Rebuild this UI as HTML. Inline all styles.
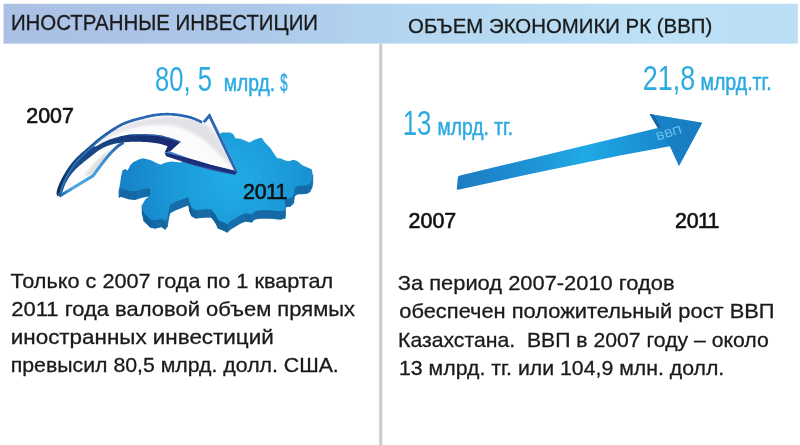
<!DOCTYPE html>
<html lang="ru"><head><meta charset="utf-8"><title>Иностранные инвестиции и объем экономики РК</title>
<style>
html,body{margin:0;padding:0;background:#fff;}
body{width:800px;height:445px;overflow:hidden;position:relative;font-family:"Liberation Sans",sans-serif;}
svg{position:absolute;left:0;top:0;display:block;filter:blur(0.45px);}
svg text{font-family:"Liberation Sans",sans-serif;}
svg text.k{stroke:#1a1a1a;stroke-width:0.3px;}
svg text.yr{font-kerning:none;stroke:#111;stroke-width:0.6px;}
</style></head><body>
<svg width="800" height="445" viewBox="0 0 800 445">
<defs>
 <filter id="b1" x="-20%" y="-20%" width="140%" height="140%"><feGaussianBlur stdDeviation="1.2"/></filter>
 <filter id="b2" x="-20%" y="-20%" width="140%" height="140%"><feGaussianBlur stdDeviation="1.6"/></filter>
 <clipPath id="cface"><path d="M76.2 163.7 L76.6 163.1 L77.2 162.4 L77.7 161.8 L78.3 161.1 L79.0 160.3 L79.7 159.6 L80.5 158.7 L81.4 157.8 L82.4 156.8 L83.4 155.8 L84.5 154.7 L85.7 153.7 L86.8 152.6 L87.9 151.6 L89.1 150.6 L90.2 149.6 L91.3 148.6 L92.3 147.7 L93.2 146.9 L94.1 146.1 L95.0 145.3 L95.8 144.6 L96.6 143.8 L97.4 143.1 L98.2 142.4 L99.0 141.8 L99.8 141.1 L100.5 140.4 L101.3 139.8 L102.1 139.1 L102.9 138.5 L103.8 137.9 L104.6 137.3 L105.4 136.7 L106.2 136.1 L107.0 135.5 L107.8 134.9 L108.6 134.3 L109.5 133.8 L110.3 133.2 L111.1 132.6 L112.0 132.1 L112.8 131.5 L113.6 131.0 L114.5 130.4 L115.3 129.9 L116.1 129.4 L116.9 128.8 L117.8 128.3 L118.6 127.8 L119.4 127.3 L120.2 126.9 L121.0 126.4 L121.8 126.0 L122.6 125.6 L123.4 125.3 L124.2 124.9 L125.0 124.6 L125.8 124.2 L126.7 123.9 L127.5 123.6 L128.3 123.3 L129.1 123.0 L129.9 122.7 L130.7 122.4 L131.5 122.2 L132.3 121.9 L133.1 121.7 L133.9 121.4 L134.7 121.2 L135.5 121.0 L136.2 120.8 L137.0 120.6 L137.8 120.4 L138.6 120.2 L139.4 120.0 L140.3 119.8 L141.1 119.6 L141.9 119.4 L142.7 119.2 L143.5 119.0 L144.3 118.8 L145.1 118.6 L145.9 118.3 L146.7 118.1 L147.5 117.9 L148.3 117.8 L149.0 117.6 L149.8 117.4 L150.6 117.2 L151.4 117.1 L152.3 116.9 L153.1 116.8 L153.9 116.6 L154.7 116.5 L155.5 116.4 L156.4 116.3 L157.2 116.1 L158.0 116.0 L158.8 115.9 L159.6 115.9 L160.4 115.8 L161.2 115.7 L162.0 115.7 L162.9 115.6 L163.7 115.6 L164.5 115.6 L165.3 115.5 L166.1 115.5 L166.9 115.5 L167.7 115.5 L168.6 115.5 L169.4 115.6 L170.2 115.6 L171.0 115.6 L171.8 115.7 L172.6 115.7 L173.4 115.8 L174.3 115.9 L175.1 115.9 L175.9 116.0 L176.7 116.1 L177.5 116.2 L178.3 116.3 L179.2 116.4 L180.0 116.6 L180.8 116.7 L181.7 116.9 L182.5 117.0 L183.4 117.2 L184.3 117.4 L185.1 117.5 L186.0 117.7 L186.8 117.9 L187.6 118.1 L188.4 118.3 L189.2 118.5 L189.9 118.7 L190.5 118.9 L191.2 119.1 L191.8 119.3 L192.3 119.5 L192.9 119.7 L193.4 119.9 L194.0 120.1 L194.5 120.3 L195.0 120.5 L195.5 120.8 L196.0 121.0 L196.5 121.2 L197.0 121.4 L197.5 121.6 L198.0 121.8 L198.4 122.1 L198.9 122.3 L199.4 122.5 L199.8 122.7 L200.2 123.0 L200.6 123.1 L200.9 123.3 L201.2 123.5 L201.5 123.6 L209.8 113.1 L237.9 171.4 L232.8 170.2 L210.6 164.8 L190.3 158.8 L170.1 151.4 L181.0 141.6 L181.0 141.6 L180.5 141.4 L179.8 141.2 L179.1 140.9 L178.2 140.6 L177.3 140.3 L176.3 139.9 L175.3 139.6 L174.2 139.2 L173.2 138.8 L172.2 138.5 L171.2 138.2 L170.3 137.9 L169.4 137.6 L168.6 137.4 L167.7 137.1 L166.9 136.9 L166.0 136.7 L165.2 136.4 L164.4 136.2 L163.5 136.0 L162.7 135.8 L161.9 135.6 L161.0 135.5 L160.2 135.3 L159.4 135.2 L158.5 135.0 L157.7 134.9 L156.8 134.8 L156.0 134.7 L155.1 134.7 L154.3 134.6 L153.4 134.5 L152.6 134.5 L151.7 134.4 L150.9 134.4 L150.1 134.3 L149.3 134.2 L148.5 134.2 L147.7 134.2 L147.0 134.1 L146.2 134.1 L145.5 134.1 L144.7 134.0 L143.9 134.0 L143.2 134.0 L142.4 134.0 L141.6 134.0 L140.8 134.0 L140.0 134.0 L139.2 134.0 L138.3 134.0 L137.5 134.0 L136.6 134.0 L135.8 134.1 L134.9 134.1 L134.1 134.1 L133.2 134.2 L132.4 134.2 L131.5 134.3 L130.7 134.4 L129.9 134.5 L129.0 134.6 L128.2 134.7 L127.3 134.9 L126.5 135.0 L125.7 135.2 L124.8 135.4 L124.0 135.5 L123.1 135.7 L122.3 135.9 L121.4 136.1 L120.6 136.3 L119.7 136.5 L118.9 136.7 L118.0 137.0 L117.1 137.2 L116.2 137.5 L115.3 137.7 L114.4 138.0 L113.6 138.3 L112.7 138.5 L111.9 138.8 L111.1 139.0 L110.4 139.3 L109.7 139.5 L109.1 139.8 L108.4 140.0 L107.8 140.3 L107.3 140.5 L106.7 140.7 L106.2 141.0 L105.6 141.2 L105.1 141.5 L104.6 141.7 L104.0 142.0 L103.4 142.3 L102.8 142.6 L102.2 142.9 L101.5 143.3 L100.9 143.6 L100.2 144.0 L99.6 144.4 L99.0 144.7 L98.3 145.1 L97.7 145.4 L97.1 145.7 L96.6 146.0 L96.0 146.2 L95.5 146.4 L95.1 146.4 L94.7 146.4 L94.3 146.4 L93.9 146.3 L93.6 146.3 L93.2 146.2 L92.8 146.2 L92.3 146.3 L91.8 146.5 L91.2 146.8 L90.5 147.2 L89.7 147.8 L88.8 148.5 L87.7 149.3 L86.6 150.2 L85.5 151.2 L84.3 152.3 L83.2 153.3 L82.0 154.4 L80.9 155.4 L79.8 156.4 L78.9 157.4 L78.0 158.2 L77.2 159.0 L76.5 159.7 L75.8 160.4 L75.2 161.1 L74.6 161.7 L74.1 162.3 L73.6 162.9 L73.1 163.6 L72.6 164.2 L72.0 164.8 L71.5 165.5 L71.0 166.2 L70.5 166.9 L69.9 167.6 L69.4 168.4 L68.9 169.1 L68.4 169.8 L67.9 170.6 L67.4 171.3 L66.9 172.1 L66.4 172.9 L65.9 173.6 L65.5 174.4 L65.0 175.2 L64.5 176.0 L64.1 176.8 L63.6 177.6 L63.1 178.4 L62.7 179.2 L62.2 180.0 L61.8 180.8 L61.4 181.7 L61.0 182.5 L60.6 183.3 L60.3 184.2 L60.0 185.0 L59.7 185.9 L59.5 186.8 L59.3 187.8 L59.1 188.8 L58.9 189.9 L58.8 190.9 L58.7 191.8 L58.5 192.8 L58.4 193.6 L58.4 194.3 L58.3 195.0 L58.2 195.5Z"/></clipPath><clipPath id="csil"><path d="M57.6 196.5 L57.5 196.3 L57.5 196.1 L57.3 195.9 L57.2 195.6 L57.1 195.3 L56.9 195.0 L56.8 194.7 L56.7 194.3 L56.6 193.9 L56.6 193.5 L56.6 193.0 L56.6 192.5 L56.7 192.0 L56.8 191.4 L56.9 190.8 L57.1 190.1 L57.3 189.5 L57.5 188.8 L57.7 188.1 L57.9 187.3 L58.2 186.6 L58.5 185.8 L58.8 185.1 L59.1 184.3 L59.4 183.5 L59.8 182.7 L60.2 181.9 L60.6 181.0 L61.0 180.2 L61.4 179.3 L61.9 178.4 L62.3 177.6 L62.8 176.7 L63.3 175.8 L63.7 175.0 L64.2 174.2 L64.7 173.4 L65.1 172.6 L65.6 171.8 L66.1 171.1 L66.6 170.3 L67.1 169.5 L67.6 168.8 L68.1 168.0 L68.6 167.3 L69.1 166.5 L69.7 165.8 L70.2 165.1 L70.7 164.4 L71.2 163.7 L71.7 163.1 L72.2 162.5 L72.7 161.8 L73.3 161.2 L73.8 160.6 L74.4 159.9 L75.0 159.2 L75.7 158.5 L76.4 157.8 L77.2 157.0 L78.1 156.1 L79.1 155.2 L80.1 154.3 L81.2 153.3 L82.3 152.3 L83.5 151.2 L84.7 150.2 L85.9 149.2 L87.0 148.2 L88.1 147.2 L89.2 146.3 L90.2 145.4 L91.1 144.6 L92.1 143.8 L92.9 143.0 L93.8 142.3 L94.6 141.5 L95.4 140.8 L96.2 140.1 L97.0 139.4 L97.8 138.8 L98.7 138.1 L99.5 137.5 L100.3 136.8 L101.1 136.2 L102.0 135.5 L102.8 134.9 L103.7 134.3 L104.5 133.7 L105.3 133.1 L106.2 132.5 L107.0 131.9 L107.9 131.4 L108.7 130.8 L109.6 130.3 L110.4 129.7 L111.2 129.1 L112.1 128.6 L112.9 128.1 L113.8 127.5 L114.6 127.0 L115.5 126.5 L116.4 125.9 L117.2 125.4 L118.1 125.0 L118.9 124.5 L119.8 124.0 L120.6 123.6 L121.4 123.2 L122.3 122.8 L123.1 122.4 L124.0 122.1 L124.8 121.7 L125.7 121.4 L126.5 121.1 L127.4 120.8 L128.2 120.5 L129.0 120.2 L129.9 119.9 L130.7 119.6 L131.5 119.3 L132.3 119.1 L133.2 118.8 L134.0 118.6 L134.8 118.4 L135.6 118.2 L136.4 118.0 L137.2 117.8 L138.0 117.6 L138.8 117.4 L139.6 117.2 L140.4 117.0 L141.2 116.8 L142.0 116.6 L142.8 116.4 L143.6 116.2 L144.4 115.9 L145.2 115.7 L146.0 115.5 L146.8 115.3 L147.6 115.1 L148.5 114.9 L149.3 114.8 L150.1 114.6 L150.9 114.4 L151.8 114.3 L152.6 114.1 L153.4 114.0 L154.3 113.8 L155.1 113.7 L156.0 113.6 L156.8 113.5 L157.7 113.4 L158.5 113.3 L159.4 113.2 L160.2 113.1 L161.0 113.0 L161.9 113.0 L162.7 112.9 L163.6 112.9 L164.4 112.9 L165.2 112.8 L166.1 112.8 L166.9 112.8 L167.8 112.8 L168.6 112.8 L169.5 112.9 L170.3 112.9 L171.1 112.9 L172.0 113.0 L172.8 113.0 L173.7 113.1 L174.5 113.2 L175.3 113.3 L176.2 113.3 L177.0 113.4 L177.9 113.5 L178.7 113.7 L179.6 113.8 L180.4 113.9 L181.3 114.0 L182.1 114.2 L183.0 114.4 L183.9 114.5 L184.8 114.7 L185.7 114.9 L186.6 115.1 L187.4 115.3 L188.3 115.5 L189.1 115.7 L189.9 115.9 L190.6 116.1 L191.3 116.3 L192.0 116.5 L192.6 116.7 L193.2 116.9 L193.8 117.2 L194.4 117.4 L195.0 117.6 L195.5 117.8 L196.1 118.0 L196.6 118.3 L197.1 118.5 L197.6 118.7 L198.1 118.9 L198.6 119.2 L199.1 119.4 L199.6 119.6 L200.1 119.9 L200.6 120.1 L201.0 120.3 L201.4 120.6 L201.8 120.8 L202.2 120.9 L202.5 121.1 L202.7 121.2 L209.8 113.1 L237.9 171.4 L234.8 175.0 L210.6 170.4 L190.3 164.3 L166.1 156.2 L164.6 152.6 L167.6 146.3 L167.3 146.2 L166.8 146.0 L166.3 145.8 L165.8 145.6 L165.2 145.4 L164.5 145.2 L163.8 145.0 L163.1 144.7 L162.4 144.5 L161.7 144.3 L160.9 144.1 L160.2 143.9 L159.5 143.7 L158.7 143.6 L157.8 143.4 L157.0 143.3 L156.1 143.2 L155.3 143.0 L154.4 142.9 L153.5 142.8 L152.6 142.7 L151.8 142.6 L150.9 142.5 L150.1 142.4 L149.3 142.3 L148.5 142.2 L147.7 142.2 L147.0 142.1 L146.2 142.1 L145.5 142.0 L144.7 142.0 L143.9 141.9 L143.2 141.9 L142.4 141.9 L141.6 141.8 L140.8 141.8 L140.0 141.8 L139.2 141.8 L138.3 141.7 L137.5 141.7 L136.6 141.7 L135.8 141.7 L134.9 141.7 L134.1 141.7 L133.2 141.7 L132.4 141.7 L131.5 141.8 L130.7 141.8 L129.9 141.8 L129.0 141.9 L128.2 142.0 L127.3 142.0 L126.5 142.1 L125.7 142.2 L124.8 142.3 L124.0 142.3 L123.1 142.4 L122.3 142.6 L121.4 142.7 L120.6 142.8 L119.8 142.9 L118.9 143.1 L118.1 143.2 L117.2 143.3 L116.4 143.5 L115.5 143.6 L114.6 143.8 L113.8 144.0 L112.9 144.2 L112.1 144.4 L111.2 144.6 L110.4 144.9 L109.6 145.2 L108.7 145.5 L107.9 145.8 L107.0 146.1 L106.2 146.4 L105.3 146.8 L104.5 147.2 L103.7 147.6 L102.8 148.0 L102.0 148.4 L101.1 148.9 L100.3 149.4 L99.4 149.9 L98.6 150.5 L97.7 151.2 L96.8 151.8 L95.9 152.5 L95.0 153.2 L94.1 153.9 L93.2 154.6 L92.4 155.2 L91.6 155.9 L90.9 156.5 L90.2 157.0 L89.6 157.5 L89.0 157.9 L88.5 158.3 L88.0 158.7 L87.6 159.0 L87.2 159.3 L86.8 159.7 L86.3 160.0 L85.9 160.4 L85.5 160.7 L85.0 161.1 L84.4 161.6 L83.8 162.1 L83.2 162.6 L82.5 163.2 L81.8 163.8 L81.1 164.3 L80.4 164.9 L79.6 165.6 L78.9 166.2 L78.2 166.8 L77.6 167.4 L76.9 168.0 L76.3 168.6 L75.7 169.2 L75.2 169.8 L74.6 170.3 L74.1 170.9 L73.6 171.5 L73.1 172.1 L72.6 172.6 L72.1 173.2 L71.6 173.8 L71.1 174.4 L70.7 175.1 L70.2 175.7 L69.7 176.4 L69.3 177.1 L68.8 177.8 L68.4 178.5 L67.9 179.2 L67.5 179.9 L67.1 180.7 L66.7 181.4 L66.3 182.2 L65.9 182.9 L65.5 183.6 L65.2 184.3 L64.9 185.0 L64.6 185.7 L64.3 186.5 L64.0 187.2 L63.8 187.9 L63.6 188.6 L63.3 189.3 L63.1 190.0 L62.9 190.7 L62.6 191.3 L62.4 191.9 L62.1 192.4 L61.8 192.9 L61.5 193.3 L61.2 193.8 L60.8 194.2 L60.5 194.5 L60.1 194.9 L59.8 195.2 L59.5 195.4 L59.2 195.7 L58.9 195.9 L58.7 196.1 L58.5 196.3Z"/></clipPath>
 <linearGradient id="gsep" x1="0" y1="0" x2="1" y2="0"><stop offset="0" stop-color="#e6e6e6"/><stop offset="0.35" stop-color="#c6c6c6"/><stop offset="0.65" stop-color="#cccccc"/><stop offset="1" stop-color="#ececec"/></linearGradient>
 <linearGradient id="gbar" x1="0" y1="0" x2="1" y2="0">
  <stop offset="0" stop-color="#aac0e4"/><stop offset="0.3" stop-color="#acc7e9"/><stop offset="0.5" stop-color="#b3d5f0"/><stop offset="0.82" stop-color="#bce0f6"/><stop offset="1" stop-color="#badef5"/>
 </linearGradient>
 <radialGradient id="gmap" gradientUnits="userSpaceOnUse" cx="232" cy="180" r="118">
  <stop offset="0" stop-color="#20ade6"/><stop offset="0.5" stop-color="#1b99d8"/><stop offset="1" stop-color="#167ec6"/>
 </radialGradient>
 <linearGradient id="gtl" gradientUnits="userSpaceOnUse" x1="59" y1="196" x2="119" y2="145">
  <stop offset="0" stop-color="#1d5fa8"/><stop offset="0.2" stop-color="#48a6e2"/><stop offset="0.65" stop-color="#3f98da"/><stop offset="1" stop-color="#2c66b0"/>
 </linearGradient>
 <linearGradient id="gband" gradientUnits="userSpaceOnUse" x1="60" y1="0" x2="182" y2="0">
  <stop offset="0" stop-color="#1a4f90"/><stop offset="0.4" stop-color="#15437f"/><stop offset="0.75" stop-color="#172f74"/><stop offset="1" stop-color="#1b2a72"/>
 </linearGradient>
 <linearGradient id="ghb" gradientUnits="userSpaceOnUse" x1="190.4" y1="158.3" x2="188.9" y2="164.6">
  <stop offset="0" stop-color="#3a7cc8"/><stop offset="0.14" stop-color="#1c2c76"/><stop offset="0.8" stop-color="#1e3280"/><stop offset="1" stop-color="#3570c0"/>
 </linearGradient>
 <linearGradient id="gouter" gradientUnits="userSpaceOnUse" x1="58" y1="195" x2="150" y2="112">
  <stop offset="0" stop-color="#0c2c5c"/><stop offset="0.35" stop-color="#164784"/><stop offset="0.7" stop-color="#2a62ac"/><stop offset="1" stop-color="#2b68b2"/>
 </linearGradient>
 <linearGradient id="garrow" gradientUnits="userSpaceOnUse" x1="458" y1="0" x2="702" y2="0">
  <stop offset="0" stop-color="#1c7cc3"/><stop offset="0.25" stop-color="#1e8ed2"/><stop offset="0.52" stop-color="#1faae6"/><stop offset="0.8" stop-color="#1a8ccf"/><stop offset="1" stop-color="#187fc4"/>
 </linearGradient>
</defs>
<rect x="3.5" y="3.8" width="794.3" height="39.8" fill="url(#gbar)"/>
<rect x="378.9" y="43.6" width="3.8" height="402" fill="url(#gsep)"/>
<g><path d="M119.0 197.4 L120.1 191.4 L121.1 184.3 L122.6 178.2 L125.1 177.0 L127.6 178.5 L130.2 173.2 L135.2 168.1 L138.3 166.6 L144.0 166.4 L150.4 168.1 L155.4 170.6 L160.5 172.7 L165.6 170.6 L171.6 169.6 L180.7 170.6 L195.0 163.0 L210.0 150.0 L221.7 140.6 L230.3 140.6 L233.4 142.2 L235.4 146.2 L240.4 146.7 L245.5 148.7 L249.5 150.6 L254.6 147.7 L260.5 145.8 L262.2 146.6 L264.9 150.5 L270.5 156.3 L274.4 162.3 L277.4 166.3 L280.4 166.3 L284.5 168.3 L288.5 169.3 L293.6 167.8 L297.6 169.3 L302.7 173.4 L308.8 175.9 L311.8 177.4 L312.8 183.0 L311.7 188.0 L309.7 192.0 L306.6 193.5 L297.5 194.1 L294.5 196.1 L293.5 203.2 L290.4 206.2 L284.4 207.2 L285.4 214.3 L284.9 218.3 L280.3 219.3 L270.2 218.3 L260.7 218.2 L254.7 219.2 L251.6 222.2 L245.6 221.2 L240.5 223.2 L235.4 226.3 L230.4 229.3 L227.4 232.3 L223.3 230.3 L218.3 228.3 L215.2 222.2 L211.2 217.2 L205.1 217.2 L195.7 218.2 L191.6 216.1 L189.6 211.1 L188.6 205.0 L185.6 206.0 L180.5 208.1 L175.4 210.1 L169.9 213.1 L168.4 219.2 L167.4 226.3 L165.3 229.3 L161.3 226.8 L155.2 228.3 L150.2 227.3 L144.1 221.2 L142.1 213.1 L145.3 207.2 L149.4 204.2 L150.4 198.1 L148.4 196.1 L141.3 197.6 L135.2 199.6 L129.2 199.1 L121.0 196.5Z" fill="#15649f"/><path d="M312.8 175.0 L311.7 180.0 L311.7 188.0 L312.8 183.0Z" fill="#1873b1" stroke="#1873b1" stroke-width="0.7"/><path d="M311.7 180.0 L309.7 184.0 L309.7 192.0 L311.7 188.0Z" fill="#1872b0" stroke="#1872b0" stroke-width="0.7"/><path d="M309.7 184.0 L306.6 185.5 L306.6 193.5 L309.7 192.0Z" fill="#176eab" stroke="#176eab" stroke-width="0.7"/><path d="M306.6 185.5 L297.5 186.1 L297.5 194.1 L306.6 193.5Z" fill="#166aa6" stroke="#166aa6" stroke-width="0.7"/><path d="M297.5 186.1 L294.5 188.1 L294.5 196.1 L297.5 194.1Z" fill="#176fac" stroke="#176fac" stroke-width="0.7"/><path d="M294.5 188.1 L293.5 195.2 L293.5 203.2 L294.5 196.1Z" fill="#1873b1" stroke="#1873b1" stroke-width="0.7"/><path d="M293.5 195.2 L290.4 198.2 L290.4 206.2 L293.5 203.2Z" fill="#1870ae" stroke="#1870ae" stroke-width="0.7"/><path d="M290.4 198.2 L284.4 199.2 L284.4 207.2 L290.4 206.2Z" fill="#166ba7" stroke="#166ba7" stroke-width="0.7"/><path d="M285.4 206.3 L284.9 210.3 L284.9 218.3 L285.4 214.3Z" fill="#1873b1" stroke="#1873b1" stroke-width="0.7"/><path d="M284.9 210.3 L280.3 211.3 L280.3 219.3 L284.9 218.3Z" fill="#166ca8" stroke="#166ca8" stroke-width="0.7"/><path d="M280.3 211.3 L270.2 210.3 L270.2 218.3 L280.3 219.3Z" fill="#1569a4" stroke="#1569a4" stroke-width="0.7"/><path d="M270.2 210.3 L260.7 210.2 L260.7 218.2 L270.2 218.3Z" fill="#1569a5" stroke="#1569a5" stroke-width="0.7"/><path d="M260.7 210.2 L254.7 211.2 L254.7 219.2 L260.7 218.2Z" fill="#166ba7" stroke="#166ba7" stroke-width="0.7"/><path d="M254.7 211.2 L251.6 214.2 L251.6 222.2 L254.7 219.2Z" fill="#1870ae" stroke="#1870ae" stroke-width="0.7"/><path d="M251.6 214.2 L245.6 213.2 L245.6 221.2 L251.6 222.2Z" fill="#1568a4" stroke="#1568a4" stroke-width="0.7"/><path d="M245.6 213.2 L240.5 215.2 L240.5 223.2 L245.6 221.2Z" fill="#176daa" stroke="#176daa" stroke-width="0.7"/><path d="M240.5 215.2 L235.4 218.3 L235.4 226.3 L240.5 223.2Z" fill="#176fac" stroke="#176fac" stroke-width="0.7"/><path d="M235.4 218.3 L230.4 221.3 L230.4 229.3 L235.4 226.3Z" fill="#176fac" stroke="#176fac" stroke-width="0.7"/><path d="M230.4 221.3 L227.4 224.3 L227.4 232.3 L230.4 229.3Z" fill="#1871ae" stroke="#1871ae" stroke-width="0.7"/><path d="M227.4 224.3 L223.3 222.3 L223.3 230.3 L227.4 232.3Z" fill="#1465a0" stroke="#1465a0" stroke-width="0.7"/><path d="M223.3 222.3 L218.3 220.3 L218.3 228.3 L223.3 230.3Z" fill="#1466a1" stroke="#1466a1" stroke-width="0.7"/><path d="M218.3 220.3 L215.2 214.2 L215.2 222.2 L218.3 228.3Z" fill="#13619b" stroke="#13619b" stroke-width="0.7"/><path d="M215.2 214.2 L211.2 209.2 L211.2 217.2 L215.2 222.2Z" fill="#13629c" stroke="#13629c" stroke-width="0.7"/><path d="M211.2 209.2 L205.1 209.2 L205.1 217.2 L211.2 217.2Z" fill="#166aa6" stroke="#166aa6" stroke-width="0.7"/><path d="M205.1 209.2 L195.7 210.2 L195.7 218.2 L205.1 217.2Z" fill="#166ba7" stroke="#166ba7" stroke-width="0.7"/><path d="M195.7 210.2 L191.6 208.1 L191.6 216.1 L195.7 218.2Z" fill="#1465a0" stroke="#1465a0" stroke-width="0.7"/><path d="M191.6 208.1 L189.6 203.1 L189.6 211.1 L191.6 216.1Z" fill="#13609a" stroke="#13609a" stroke-width="0.7"/><path d="M189.6 203.1 L188.6 197.0 L188.6 205.0 L189.6 211.1Z" fill="#13609a" stroke="#13609a" stroke-width="0.7"/><path d="M188.6 197.0 L185.6 198.0 L185.6 206.0 L188.6 205.0Z" fill="#166da9" stroke="#166da9" stroke-width="0.7"/><path d="M185.6 198.0 L180.5 200.1 L180.5 208.1 L185.6 206.0Z" fill="#176daa" stroke="#176daa" stroke-width="0.7"/><path d="M180.5 200.1 L175.4 202.1 L175.4 210.1 L180.5 208.1Z" fill="#176daa" stroke="#176daa" stroke-width="0.7"/><path d="M175.4 202.1 L169.9 205.1 L169.9 213.1 L175.4 210.1Z" fill="#176eab" stroke="#176eab" stroke-width="0.7"/><path d="M169.9 205.1 L168.4 211.2 L168.4 219.2 L169.9 213.1Z" fill="#1873b1" stroke="#1873b1" stroke-width="0.7"/><path d="M168.4 211.2 L167.4 218.3 L167.4 226.3 L168.4 219.2Z" fill="#1873b1" stroke="#1873b1" stroke-width="0.7"/><path d="M167.4 218.3 L165.3 221.3 L165.3 229.3 L167.4 226.3Z" fill="#1872af" stroke="#1872af" stroke-width="0.7"/><path d="M165.3 221.3 L161.3 218.8 L161.3 226.8 L165.3 229.3Z" fill="#14649f" stroke="#14649f" stroke-width="0.7"/><path d="M161.3 218.8 L155.2 220.3 L155.2 228.3 L161.3 226.8Z" fill="#166ca8" stroke="#166ca8" stroke-width="0.7"/><path d="M155.2 220.3 L150.2 219.3 L150.2 227.3 L155.2 228.3Z" fill="#1568a3" stroke="#1568a3" stroke-width="0.7"/><path d="M150.2 219.3 L144.1 213.2 L144.1 221.2 L150.2 227.3Z" fill="#13629d" stroke="#13629d" stroke-width="0.7"/><path d="M144.1 213.2 L142.1 205.1 L142.1 213.1 L144.1 221.2Z" fill="#13609a" stroke="#13609a" stroke-width="0.7"/><path d="M150.4 190.1 L148.4 188.1 L148.4 196.1 L150.4 198.1Z" fill="#13629d" stroke="#13629d" stroke-width="0.7"/><path d="M148.4 188.1 L141.3 189.6 L141.3 197.6 L148.4 196.1Z" fill="#166ca8" stroke="#166ca8" stroke-width="0.7"/><path d="M141.3 189.6 L135.2 191.6 L135.2 199.6 L141.3 197.6Z" fill="#166da9" stroke="#166da9" stroke-width="0.7"/><path d="M135.2 191.6 L129.2 191.1 L129.2 199.1 L135.2 199.6Z" fill="#1569a5" stroke="#1569a5" stroke-width="0.7"/><path d="M129.2 191.1 L121.0 188.5 L121.0 196.5 L129.2 199.1Z" fill="#1566a2" stroke="#1566a2" stroke-width="0.7"/><path d="M121.0 188.5 L119.0 189.4 L119.0 197.4 L121.0 196.5Z" fill="#176eaa" stroke="#176eaa" stroke-width="0.7"/><path d="M119.0 189.4 L120.1 183.4 L121.1 176.3 L122.6 170.2 L125.1 169.0 L127.6 170.5 L130.2 165.2 L135.2 160.1 L138.3 158.6 L144.0 158.4 L150.4 160.1 L155.4 162.6 L160.5 164.7 L165.6 162.6 L171.6 161.6 L180.7 162.6 L195.0 155.0 L210.0 142.0 L221.7 132.6 L230.3 132.6 L233.4 134.2 L235.4 138.2 L240.4 138.7 L245.5 140.7 L249.5 142.6 L254.6 139.7 L260.5 137.8 L262.2 138.6 L264.9 142.5 L270.5 148.3 L274.4 154.3 L277.4 158.3 L280.4 158.3 L284.5 160.3 L288.5 161.3 L293.6 159.8 L297.6 161.3 L302.7 165.4 L308.8 167.9 L311.8 169.4 L312.8 175.0 L311.7 180.0 L309.7 184.0 L306.6 185.5 L297.5 186.1 L294.5 188.1 L293.5 195.2 L290.4 198.2 L284.4 199.2 L285.4 206.3 L284.9 210.3 L280.3 211.3 L270.2 210.3 L260.7 210.2 L254.7 211.2 L251.6 214.2 L245.6 213.2 L240.5 215.2 L235.4 218.3 L230.4 221.3 L227.4 224.3 L223.3 222.3 L218.3 220.3 L215.2 214.2 L211.2 209.2 L205.1 209.2 L195.7 210.2 L191.6 208.1 L189.6 203.1 L188.6 197.0 L185.6 198.0 L180.5 200.1 L175.4 202.1 L169.9 205.1 L168.4 211.2 L167.4 218.3 L165.3 221.3 L161.3 218.8 L155.2 220.3 L150.2 219.3 L144.1 213.2 L142.1 205.1 L145.3 199.2 L149.4 196.2 L150.4 190.1 L148.4 188.1 L141.3 189.6 L135.2 191.6 L129.2 191.1 L121.0 188.5Z" fill="url(#gmap)"/></g>

<g>
 <path d="M59.3 196.2 L93.0 175.9 L93.5 175.3 L94.1 174.5 L94.7 173.5 L95.5 172.4 L96.4 171.3 L97.3 170.0 L98.2 168.8 L99.1 167.5 L100.0 166.3 L100.9 165.1 L101.7 164.0 L102.5 163.0 L103.2 162.1 L103.9 161.2 L104.6 160.3 L105.2 159.5 L105.9 158.7 L106.5 157.9 L107.2 157.1 L107.8 156.4 L108.4 155.6 L109.1 154.9 L109.7 154.2 L110.3 153.5 L110.9 152.8 L111.5 152.2 L112.2 151.5 L112.8 150.9 L113.4 150.2 L114.0 149.7 L114.6 149.1 L115.2 148.5 L115.8 148.0 L116.4 147.5 L116.9 147.0 L117.5 146.5 L118.1 146.1 L118.6 145.6 L119.2 145.2 L119.8 144.8 L120.4 144.5 L121.0 144.1 L121.5 143.8 L122.0 143.5 L122.5 143.2 L122.9 143.0 L123.2 142.8 L123.5 142.6 L58.5 196.3 L58.7 196.1 L58.9 195.9 L59.2 195.7 L59.5 195.4 L59.8 195.2 L60.1 194.9 L60.5 194.5 L60.8 194.2 L61.2 193.8 L61.5 193.3 L61.8 192.9 L62.1 192.4 L62.4 191.9 L62.6 191.3 L62.9 190.7 L63.1 190.0 L63.3 189.3 L63.6 188.6 L63.8 187.9 L64.0 187.2 L64.3 186.5 L64.6 185.7 L64.9 185.0 L65.2 184.3 L65.5 183.6 L65.9 182.9 L66.3 182.2 L66.7 181.4 L67.1 180.7 L67.5 179.9 L67.9 179.2 L68.4 178.5 L68.8 177.8 L69.3 177.1 L69.7 176.4 L70.2 175.7 L70.7 175.1 L71.1 174.4 L71.6 173.8 L72.1 173.2 L72.6 172.6 L73.1 172.1 L73.6 171.5 L74.1 170.9 L74.6 170.3 L75.2 169.8 L75.7 169.2 L76.3 168.6 L76.9 168.0 L77.6 167.4 L78.2 166.8 L78.9 166.2 L79.6 165.6 L80.4 164.9 L81.1 164.3 L81.8 163.8 L82.5 163.2 L83.2 162.6 L83.8 162.1 L84.4 161.6 L85.0 161.1 L85.5 160.7 L85.9 160.4 L86.3 160.0 L86.8 159.7 L87.2 159.3 L87.6 159.0 L88.0 158.7 L88.5 158.3 L89.0 157.9 L89.6 157.5 L90.2 157.0 L90.9 156.5 L91.6 155.9 L92.4 155.2 L93.2 154.6 L94.1 153.9 L95.0 153.2 L95.9 152.5 L96.8 151.8 L97.7 151.2 L98.6 150.5 L99.4 149.9 L100.3 149.4 L101.1 148.9 L102.0 148.4 L102.8 148.0 L103.7 147.6 L104.5 147.2 L105.3 146.8 L106.2 146.4 L107.0 146.1 L107.9 145.8 L108.7 145.5 L109.6 145.2 L110.4 144.9 L111.2 144.6 L112.1 144.4 L112.9 144.2 L113.8 144.0 L114.6 143.8 L115.5 143.6 L116.4 143.5 L117.2 143.3 L118.1 143.2 L118.9 143.1 L119.8 142.9 L120.6 142.8 L121.4 142.7 L122.3 142.6 L123.1 142.4 L124.0 142.3 L124.8 142.3 L125.7 142.2 L126.5 142.1 L127.3 142.0 L128.2 142.0 L129.0 141.9 L129.9 141.8 L130.7 141.8 L131.5 141.8 L132.4 141.7 L133.2 141.7 L134.1 141.7 L134.9 141.7 L135.8 141.7 L136.6 141.7 L137.5 141.7 L138.3 141.7 L139.2 141.8 L140.0 141.8 L140.8 141.8 L141.6 141.8 L142.4 141.9 L143.2 141.9 L143.9 141.9 L144.7 142.0 L145.5 142.0 L146.2 142.1 L147.0 142.1 L147.7 142.2 L148.5 142.2 L149.3 142.3 L150.1 142.4 L150.9 142.5 L151.8 142.6 L152.6 142.7 L153.5 142.8 L154.4 142.9 L155.3 143.0 L156.1 143.2 L157.0 143.3 L157.8 143.4 L158.7 143.6 L159.5 143.7 L160.2 143.9 L160.9 144.1 L161.7 144.3 L162.4 144.5 L163.1 144.7 L163.8 145.0 L164.5 145.2 L165.2 145.4 L165.8 145.6 L166.3 145.8 L166.8 146.0 L167.3 146.2 L167.6 146.3Z" fill="#fdfdfd"/>
 <path d="M84.0 176.0 L84.4 175.5 L84.9 174.9 L85.4 174.2 L86.0 173.4 L86.7 172.5 L87.4 171.6 L88.2 170.6 L89.0 169.7 L89.7 168.7 L90.5 167.8 L91.3 166.8 L92.0 166.0 L92.7 165.2 L93.4 164.4 L94.2 163.5 L94.9 162.7 L95.7 161.9 L96.4 161.1 L97.2 160.3 L98.0 159.5 L98.7 158.7 L99.5 157.9 L100.2 157.2 L101.0 156.5 L101.8 155.8 L102.6 155.1 L103.5 154.4 L104.3 153.7 L105.2 153.1 L106.1 152.4 L106.9 151.8 L107.7 151.2 L108.4 150.7 L109.0 150.2 L109.6 149.8 L110.0 149.5 L104.0 160.0 L92.5 174.5Z" fill="#dedede" filter="url(#b1)"/>
 <path d="M59.3 196.2 L93.0 175.9 L93.5 175.3 L94.1 174.5 L94.7 173.5 L95.5 172.4 L96.4 171.3 L97.3 170.0 L98.2 168.8 L99.1 167.5 L100.0 166.3 L100.9 165.1 L101.7 164.0 L102.5 163.0 L103.2 162.1 L103.9 161.2 L104.6 160.3 L105.2 159.5 L105.9 158.7 L106.5 157.9 L107.2 157.1 L107.8 156.4 L108.4 155.6 L109.1 154.9 L109.7 154.2 L110.3 153.5 L110.9 152.8 L111.5 152.2 L112.2 151.5 L112.8 150.9 L113.4 150.2 L114.0 149.7 L114.6 149.1 L115.2 148.5 L115.8 148.0 L116.4 147.5 L116.9 147.0 L117.5 146.5 L118.1 146.1 L118.6 145.6 L119.2 145.2 L119.8 144.8 L120.4 144.5 L121.0 144.1 L121.5 143.8 L122.0 143.5 L122.5 143.2 L122.9 143.0 L123.2 142.8 L123.5 142.6" fill="none" stroke="url(#gtl)" stroke-width="3" stroke-linejoin="miter"/>
 <path d="M76.2 163.7 L76.6 163.1 L77.2 162.4 L77.7 161.8 L78.3 161.1 L79.0 160.3 L79.7 159.6 L80.5 158.7 L81.4 157.8 L82.4 156.8 L83.4 155.8 L84.5 154.7 L85.7 153.7 L86.8 152.6 L87.9 151.6 L89.1 150.6 L90.2 149.6 L91.3 148.6 L92.3 147.7 L93.2 146.9 L94.1 146.1 L95.0 145.3 L95.8 144.6 L96.6 143.8 L97.4 143.1 L98.2 142.4 L99.0 141.8 L99.8 141.1 L100.5 140.4 L101.3 139.8 L102.1 139.1 L102.9 138.5 L103.8 137.9 L104.6 137.3 L105.4 136.7 L106.2 136.1 L107.0 135.5 L107.8 134.9 L108.6 134.3 L109.5 133.8 L110.3 133.2 L111.1 132.6 L112.0 132.1 L112.8 131.5 L113.6 131.0 L114.5 130.4 L115.3 129.9 L116.1 129.4 L116.9 128.8 L117.8 128.3 L118.6 127.8 L119.4 127.3 L120.2 126.9 L121.0 126.4 L121.8 126.0 L122.6 125.6 L123.4 125.3 L124.2 124.9 L125.0 124.6 L125.8 124.2 L126.7 123.9 L127.5 123.6 L128.3 123.3 L129.1 123.0 L129.9 122.7 L130.7 122.4 L131.5 122.2 L132.3 121.9 L133.1 121.7 L133.9 121.4 L134.7 121.2 L135.5 121.0 L136.2 120.8 L137.0 120.6 L137.8 120.4 L138.6 120.2 L139.4 120.0 L140.3 119.8 L141.1 119.6 L141.9 119.4 L142.7 119.2 L143.5 119.0 L144.3 118.8 L145.1 118.6 L145.9 118.3 L146.7 118.1 L147.5 117.9 L148.3 117.8 L149.0 117.6 L149.8 117.4 L150.6 117.2 L151.4 117.1 L152.3 116.9 L153.1 116.8 L153.9 116.6 L154.7 116.5 L155.5 116.4 L156.4 116.3 L157.2 116.1 L158.0 116.0 L158.8 115.9 L159.6 115.9 L160.4 115.8 L161.2 115.7 L162.0 115.7 L162.9 115.6 L163.7 115.6 L164.5 115.6 L165.3 115.5 L166.1 115.5 L166.9 115.5 L167.7 115.5 L168.6 115.5 L169.4 115.6 L170.2 115.6 L171.0 115.6 L171.8 115.7 L172.6 115.7 L173.4 115.8 L174.3 115.9 L175.1 115.9 L175.9 116.0 L176.7 116.1 L177.5 116.2 L178.3 116.3 L179.2 116.4 L180.0 116.6 L180.8 116.7 L181.7 116.9 L182.5 117.0 L183.4 117.2 L184.3 117.4 L185.1 117.5 L186.0 117.7 L186.8 117.9 L187.6 118.1 L188.4 118.3 L189.2 118.5 L189.9 118.7 L190.5 118.9 L191.2 119.1 L191.8 119.3 L192.3 119.5 L192.9 119.7 L193.4 119.9 L194.0 120.1 L194.5 120.3 L195.0 120.5 L195.5 120.8 L196.0 121.0 L196.5 121.2 L197.0 121.4 L197.5 121.6 L198.0 121.8 L198.4 122.1 L198.9 122.3 L199.4 122.5 L199.8 122.7 L200.2 123.0 L200.6 123.1 L200.9 123.3 L201.2 123.5 L201.5 123.6 L209.8 113.1 L237.9 171.4 L232.8 170.2 L210.6 164.8 L190.3 158.8 L170.1 151.4 L181.0 141.6 L181.0 141.6 L180.5 141.4 L179.8 141.2 L179.1 140.9 L178.2 140.6 L177.3 140.3 L176.3 139.9 L175.3 139.6 L174.2 139.2 L173.2 138.8 L172.2 138.5 L171.2 138.2 L170.3 137.9 L169.4 137.6 L168.6 137.4 L167.7 137.1 L166.9 136.9 L166.0 136.7 L165.2 136.4 L164.4 136.2 L163.5 136.0 L162.7 135.8 L161.9 135.6 L161.0 135.5 L160.2 135.3 L159.4 135.2 L158.5 135.0 L157.7 134.9 L156.8 134.8 L156.0 134.7 L155.1 134.7 L154.3 134.6 L153.4 134.5 L152.6 134.5 L151.7 134.4 L150.9 134.4 L150.1 134.3 L149.3 134.2 L148.5 134.2 L147.7 134.2 L147.0 134.1 L146.2 134.1 L145.5 134.1 L144.7 134.0 L143.9 134.0 L143.2 134.0 L142.4 134.0 L141.6 134.0 L140.8 134.0 L140.0 134.0 L139.2 134.0 L138.3 134.0 L137.5 134.0 L136.6 134.0 L135.8 134.1 L134.9 134.1 L134.1 134.1 L133.2 134.2 L132.4 134.2 L131.5 134.3 L130.7 134.4 L129.9 134.5 L129.0 134.6 L128.2 134.7 L127.3 134.9 L126.5 135.0 L125.7 135.2 L124.8 135.4 L124.0 135.5 L123.1 135.7 L122.3 135.9 L121.4 136.1 L120.6 136.3 L119.7 136.5 L118.9 136.7 L118.0 137.0 L117.1 137.2 L116.2 137.5 L115.3 137.7 L114.4 138.0 L113.6 138.3 L112.7 138.5 L111.9 138.8 L111.1 139.0 L110.4 139.3 L109.7 139.5 L109.1 139.8 L108.4 140.0 L107.8 140.3 L107.3 140.5 L106.7 140.7 L106.2 141.0 L105.6 141.2 L105.1 141.5 L104.6 141.7 L104.0 142.0 L103.4 142.3 L102.8 142.6 L102.2 142.9 L101.5 143.3 L100.9 143.6 L100.2 144.0 L99.6 144.4 L99.0 144.7 L98.3 145.1 L97.7 145.4 L97.1 145.7 L96.6 146.0 L96.0 146.2 L95.5 146.4 L95.1 146.4 L94.7 146.4 L94.3 146.4 L93.9 146.3 L93.6 146.3 L93.2 146.2 L92.8 146.2 L92.3 146.3 L91.8 146.5 L91.2 146.8 L90.5 147.2 L89.7 147.8 L88.8 148.5 L87.7 149.3 L86.6 150.2 L85.5 151.2 L84.3 152.3 L83.2 153.3 L82.0 154.4 L80.9 155.4 L79.8 156.4 L78.9 157.4 L78.0 158.2 L77.2 159.0 L76.5 159.7 L75.8 160.4 L75.2 161.1 L74.6 161.7 L74.1 162.3 L73.6 162.9 L73.1 163.6 L72.6 164.2 L72.0 164.8 L71.5 165.5 L71.0 166.2 L70.5 166.9 L69.9 167.6 L69.4 168.4 L68.9 169.1 L68.4 169.8 L67.9 170.6 L67.4 171.3 L66.9 172.1 L66.4 172.9 L65.9 173.6 L65.5 174.4 L65.0 175.2 L64.5 176.0 L64.1 176.8 L63.6 177.6 L63.1 178.4 L62.7 179.2 L62.2 180.0 L61.8 180.8 L61.4 181.7 L61.0 182.5 L60.6 183.3 L60.3 184.2 L60.0 185.0 L59.7 185.9 L59.5 186.8 L59.3 187.8 L59.1 188.8 L58.9 189.9 L58.8 190.9 L58.7 191.8 L58.5 192.8 L58.4 193.6 L58.4 194.3 L58.3 195.0 L58.2 195.5Z" fill="#fbfbfc"/>
 <path d="M100.0 139.0 L101.0 138.5 L102.2 137.8 L103.6 136.9 L105.2 136.0 L106.9 135.0 L108.8 133.9 L110.7 132.9 L112.6 131.8 L114.5 130.7 L116.4 129.7 L118.3 128.8 L120.0 128.0 L121.7 127.3 L123.3 126.6 L125.0 125.9 L126.7 125.2 L128.3 124.6 L130.0 124.0 L131.7 123.5 L133.3 122.9 L135.0 122.4 L136.7 121.9 L138.3 121.4 L140.0 121.0 L141.7 120.6 L143.3 120.2 L145.0 119.8 L146.7 119.4 L148.3 119.1 L150.0 118.8 L151.7 118.5 L153.3 118.3 L155.0 118.0 L156.7 117.8 L158.3 117.7 L160.0 117.5 L161.7 117.4 L163.3 117.2 L165.0 117.1 L166.7 117.1 L168.3 117.0 L170.0 117.0 L171.7 117.0 L173.3 117.0 L175.0 117.1 L176.7 117.2 L178.3 117.3 L180.0 117.5 L181.7 117.7 L183.4 117.9 L185.2 118.2 L187.0 118.5 L188.7 118.9 L190.5 119.2 L192.2 119.6 L193.9 120.1 L195.6 120.5 L197.1 121.0 L198.6 121.5 L200.0 122.0 L201.3 122.5 L202.5 123.0 L203.6 123.5 L204.6 124.0 L205.6 124.6 L206.5 125.2 L207.4 125.8 L208.3 126.5 L209.2 127.2 L210.1 128.0 L211.0 129.0 L212.0 130.0 L213.0 131.1 L214.0 132.4 L215.0 133.8 L216.0 135.2 L217.1 136.7 L218.1 138.2 L219.1 139.9 L220.1 141.5 L221.1 143.1 L222.1 144.8 L223.0 146.4 L224.0 148.0 L225.0 149.7 L226.0 151.4 L227.1 153.3 L228.1 155.3 L229.2 157.2 L230.2 159.1 L231.2 161.0 L232.2 162.7 L233.0 164.4 L233.8 165.8 L234.5 167.0 L235.0 168.0 L236.0 171.0 L235.5 170.5 L235.0 170.0 L234.3 169.3 L233.6 168.6 L232.8 167.8 L232.0 166.9 L231.0 166.0 L230.1 165.1 L229.1 164.1 L228.1 163.1 L227.0 162.0 L226.0 161.0 L224.9 159.9 L223.7 158.7 L222.4 157.4 L221.1 156.1 L219.8 154.8 L218.4 153.4 L217.0 152.0 L215.7 150.7 L214.4 149.4 L213.1 148.2 L211.9 147.0 L210.8 146.0 L209.8 145.1 L208.9 144.3 L208.2 143.5 L207.4 142.8 L206.7 142.2 L206.1 141.6 L205.4 141.0 L204.6 140.4 L203.8 139.8 L202.9 139.2 L201.9 138.5 L200.7 137.8 L199.4 137.0 L197.9 136.1 L196.3 135.2 L194.7 134.3 L193.0 133.3 L191.2 132.3 L189.4 131.4 L187.5 130.5 L185.7 129.6 L183.9 128.8 L182.1 128.1 L180.4 127.5 L178.7 127.0 L177.0 126.5 L175.3 126.1 L173.7 125.8 L172.0 125.5 L170.3 125.2 L168.6 125.0 L166.9 124.9 L165.2 124.7 L163.6 124.6 L161.9 124.6 L160.2 124.5 L158.5 124.5 L156.8 124.5 L155.1 124.6 L153.5 124.7 L151.8 124.8 L150.1 125.0 L148.4 125.2 L146.7 125.4 L145.0 125.6 L143.4 125.9 L141.7 126.2 L140.0 126.5 L138.3 126.8 L136.7 127.2 L135.0 127.5 L133.3 127.9 L131.7 128.3 L130.0 128.8 L128.3 129.2 L126.7 129.7 L125.0 130.3 L123.3 130.8 L121.7 131.4 L120.0 132.0 L118.3 132.7 L116.4 133.5 L114.5 134.3 L112.6 135.2 L110.7 136.2 L108.8 137.1 L106.9 138.0 L105.2 138.9 L103.6 139.7 L102.2 140.4 L101.0 141.0 L100.0 141.5Z" fill="#e2e2e6" filter="url(#b2)" clip-path="url(#cface)"/>
 <path d="M181.0 141.6 L180.5 141.4 L179.8 141.2 L179.1 140.9 L178.2 140.6 L177.3 140.3 L176.3 139.9 L175.3 139.6 L174.2 139.2 L173.2 138.8 L172.2 138.5 L171.2 138.2 L170.3 137.9 L169.4 137.6 L168.6 137.4 L167.7 137.1 L166.9 136.9 L166.0 136.7 L165.2 136.4 L164.4 136.2 L163.5 136.0 L162.7 135.8 L161.9 135.6 L161.0 135.5 L160.2 135.3 L159.4 135.2 L158.5 135.0 L157.7 134.9 L156.8 134.8 L156.0 134.7 L155.1 134.7 L154.3 134.6 L153.4 134.5 L152.6 134.5 L151.7 134.4 L150.9 134.4 L150.1 134.3 L149.3 134.2 L148.5 134.2 L147.7 134.2 L147.0 134.1 L146.2 134.1 L145.5 134.1 L144.7 134.0 L143.9 134.0 L143.2 134.0 L142.4 134.0 L141.6 134.0 L140.8 134.0 L140.0 134.0 L139.2 134.0 L138.3 134.0 L137.5 134.0 L136.6 134.0 L135.8 134.1 L134.9 134.1 L134.1 134.1 L133.2 134.2 L132.4 134.2 L131.5 134.3 L130.7 134.4 L129.9 134.5 L129.0 134.6 L128.2 134.7 L127.3 134.9 L126.5 135.0 L125.7 135.2 L124.8 135.4 L124.0 135.5 L123.1 135.7 L122.3 135.9 L121.4 136.1 L120.6 136.3 L119.7 136.5 L118.9 136.7 L118.0 137.0 L117.1 137.2 L116.2 137.5 L115.3 137.7 L114.4 138.0 L113.6 138.3 L112.7 138.5 L111.9 138.8 L111.1 139.0 L110.4 139.3 L109.7 139.5 L109.1 139.8 L108.4 140.0 L107.8 140.3 L107.3 140.5 L106.7 140.7 L106.2 141.0 L105.6 141.2 L105.1 141.5 L104.6 141.7 L104.0 142.0 L103.4 142.3 L102.8 142.6 L102.2 142.9 L101.5 143.3 L100.9 143.6 L100.2 144.0 L99.6 144.4 L99.0 144.7 L98.3 145.1 L97.7 145.4 L97.1 145.7 L96.6 146.0 L96.0 146.2 L95.5 146.4 L95.1 146.4 L94.7 146.4 L94.3 146.4 L93.9 146.3 L93.6 146.3 L93.2 146.2 L92.8 146.2 L92.3 146.3 L91.8 146.5 L91.2 146.8 L90.5 147.2 L89.7 147.8 L88.8 148.5 L87.7 149.3 L86.6 150.2 L85.5 151.2 L84.3 152.3 L83.2 153.3 L82.0 154.4 L80.9 155.4 L79.8 156.4 L78.9 157.4 L78.0 158.2 L77.2 159.0 L76.5 159.7 L75.8 160.4 L75.2 161.1 L74.6 161.7 L74.1 162.3 L73.6 162.9 L73.1 163.6 L72.6 164.2 L72.0 164.8 L71.5 165.5 L71.0 166.2 L70.5 166.9 L69.9 167.6 L69.4 168.4 L68.9 169.1 L68.4 169.8 L67.9 170.6 L67.4 171.3 L66.9 172.1 L66.4 172.9 L65.9 173.6 L65.5 174.4 L65.0 175.2 L64.5 176.0 L64.1 176.8 L63.6 177.6 L63.1 178.4 L62.7 179.2 L62.2 180.0 L61.8 180.8 L61.4 181.7 L61.0 182.5 L60.6 183.3 L60.3 184.2 L60.0 185.0 L59.7 185.9 L59.5 186.8 L59.3 187.8 L59.1 188.8 L58.9 189.9 L58.8 190.9 L58.7 191.8 L58.5 192.8 L58.4 193.6 L58.4 194.3 L58.3 195.0 L58.2 195.5 L58.5 196.3 L58.7 196.1 L58.9 195.9 L59.2 195.7 L59.5 195.4 L59.8 195.2 L60.1 194.9 L60.5 194.5 L60.8 194.2 L61.2 193.8 L61.5 193.3 L61.8 192.9 L62.1 192.4 L62.4 191.9 L62.6 191.3 L62.9 190.7 L63.1 190.0 L63.3 189.3 L63.6 188.6 L63.8 187.9 L64.0 187.2 L64.3 186.5 L64.6 185.7 L64.9 185.0 L65.2 184.3 L65.5 183.6 L65.9 182.9 L66.3 182.2 L66.7 181.4 L67.1 180.7 L67.5 179.9 L67.9 179.2 L68.4 178.5 L68.8 177.8 L69.3 177.1 L69.7 176.4 L70.2 175.7 L70.7 175.1 L71.1 174.4 L71.6 173.8 L72.1 173.2 L72.6 172.6 L73.1 172.1 L73.6 171.5 L74.1 170.9 L74.6 170.3 L75.2 169.8 L75.7 169.2 L76.3 168.6 L76.9 168.0 L77.6 167.4 L78.2 166.8 L78.9 166.2 L79.6 165.6 L80.4 164.9 L81.1 164.3 L81.8 163.8 L82.5 163.2 L83.2 162.6 L83.8 162.1 L84.4 161.6 L85.0 161.1 L85.5 160.7 L85.9 160.4 L86.3 160.0 L86.8 159.7 L87.2 159.3 L87.6 159.0 L88.0 158.7 L88.5 158.3 L89.0 157.9 L89.6 157.5 L90.2 157.0 L90.9 156.5 L91.6 155.9 L92.4 155.2 L93.2 154.6 L94.1 153.9 L95.0 153.2 L95.9 152.5 L96.8 151.8 L97.7 151.2 L98.6 150.5 L99.4 149.9 L100.3 149.4 L101.1 148.9 L102.0 148.4 L102.8 148.0 L103.7 147.6 L104.5 147.2 L105.3 146.8 L106.2 146.4 L107.0 146.1 L107.9 145.8 L108.7 145.5 L109.6 145.2 L110.4 144.9 L111.2 144.6 L112.1 144.4 L112.9 144.2 L113.8 144.0 L114.6 143.8 L115.5 143.6 L116.4 143.5 L117.2 143.3 L118.1 143.2 L118.9 143.1 L119.8 142.9 L120.6 142.8 L121.4 142.7 L122.3 142.6 L123.1 142.4 L124.0 142.3 L124.8 142.3 L125.7 142.2 L126.5 142.1 L127.3 142.0 L128.2 142.0 L129.0 141.9 L129.9 141.8 L130.7 141.8 L131.5 141.8 L132.4 141.7 L133.2 141.7 L134.1 141.7 L134.9 141.7 L135.8 141.7 L136.6 141.7 L137.5 141.7 L138.3 141.7 L139.2 141.8 L140.0 141.8 L140.8 141.8 L141.6 141.8 L142.4 141.9 L143.2 141.9 L143.9 141.9 L144.7 142.0 L145.5 142.0 L146.2 142.1 L147.0 142.1 L147.7 142.2 L148.5 142.2 L149.3 142.3 L150.1 142.4 L150.9 142.5 L151.8 142.6 L152.6 142.7 L153.5 142.8 L154.4 142.9 L155.3 143.0 L156.1 143.2 L157.0 143.3 L157.8 143.4 L158.7 143.6 L159.5 143.7 L160.2 143.9 L160.9 144.1 L161.7 144.3 L162.4 144.5 L163.1 144.7 L163.8 145.0 L164.5 145.2 L165.2 145.4 L165.8 145.6 L166.3 145.8 L166.8 146.0 L167.3 146.2 L167.6 146.3 L164.6 152.6 L170.1 151.4Z" fill="url(#gband)"/>
 <path d="M181.0 141.6 L180.5 141.4 L179.8 141.2 L179.1 140.9 L178.2 140.6 L177.3 140.3 L176.3 139.9 L175.3 139.6 L174.2 139.2 L173.2 138.8 L172.2 138.5 L171.2 138.2 L170.3 137.9 L169.4 137.6 L168.6 137.4 L167.7 137.1 L166.9 136.9 L166.0 136.7 L165.2 136.4 L164.4 136.2 L163.5 136.0 L162.7 135.8 L161.9 135.6 L161.0 135.5 L160.2 135.3 L159.4 135.2 L158.5 135.0 L157.7 134.9 L156.8 134.8 L156.0 134.7 L155.1 134.7 L154.3 134.6 L153.4 134.5 L152.6 134.5 L151.7 134.4 L150.9 134.4 L150.1 134.3 L149.3 134.2 L148.5 134.2 L147.7 134.2 L147.0 134.1 L146.2 134.1 L145.5 134.1 L144.7 134.0 L143.9 134.0 L143.2 134.0 L142.4 134.0 L141.6 134.0 L140.8 134.0 L140.0 134.0 L139.2 134.0 L138.3 134.0 L137.5 134.0 L136.6 134.0 L135.8 134.1 L134.9 134.1 L134.1 134.1 L133.2 134.2 L132.4 134.2 L131.5 134.3 L131.7 135.6 L132.5 135.5 L133.3 135.5 L134.2 135.4 L135.0 135.4 L135.8 135.4 L136.7 135.3 L137.5 135.3 L138.3 135.3 L139.2 135.3 L140.0 135.3 L140.8 135.3 L141.6 135.3 L142.4 135.3 L143.1 135.3 L143.9 135.3 L144.7 135.3 L145.4 135.4 L146.2 135.4 L146.9 135.4 L147.7 135.5 L148.4 135.5 L149.2 135.5 L150.0 135.6 L150.8 135.7 L151.7 135.7 L152.5 135.8 L153.3 135.8 L154.1 135.9 L155.0 136.0 L155.8 136.0 L156.7 136.1 L157.5 136.2 L158.3 136.3 L159.2 136.4 L160.0 136.6 L160.8 136.7 L161.6 136.9 L162.4 137.1 L163.2 137.3 L164.1 137.5 L164.9 137.7 L165.7 137.9 L166.5 138.1 L167.4 138.4 L168.2 138.6 L169.1 138.9 L169.9 139.1 L170.8 139.4 L171.8 139.7 L172.8 140.1 L173.8 140.4 L174.8 140.8 L175.8 141.1 L176.8 141.5 L177.8 141.8 L178.6 142.1 L179.4 142.4 L180.0 142.6 L180.6 142.8Z" fill="#3f8fd4" opacity="0.55"/>
 <path d="M164.6 152.6 L166.1 156.2 L190.3 164.3 L210.6 170.4 L234.8 175.0 L237.9 171.4 L232.8 170.2 L210.6 164.8 L190.3 158.8 L170.1 151.4Z" fill="url(#ghb)"/>
 <path d="M57.6 196.5 L57.5 196.3 L57.5 196.1 L57.3 195.9 L57.2 195.6 L57.1 195.3 L56.9 195.0 L56.8 194.7 L56.7 194.3 L56.6 193.9 L56.6 193.5 L56.6 193.0 L56.6 192.5 L56.7 192.0 L56.8 191.4 L56.9 190.8 L57.1 190.1 L57.3 189.5 L57.5 188.8 L57.7 188.1 L57.9 187.3 L58.2 186.6 L58.5 185.8 L58.8 185.1 L59.1 184.3 L59.4 183.5 L59.8 182.7 L60.2 181.9 L60.6 181.0 L61.0 180.2 L61.4 179.3 L61.9 178.4 L62.3 177.6 L62.8 176.7 L63.3 175.8 L63.7 175.0 L64.2 174.2 L64.7 173.4 L65.1 172.6 L65.6 171.8 L66.1 171.1 L66.6 170.3 L67.1 169.5 L67.6 168.8 L68.1 168.0 L68.6 167.3 L69.1 166.5 L69.7 165.8 L70.2 165.1 L70.7 164.4 L71.2 163.7 L71.7 163.1 L72.2 162.5 L72.7 161.8 L73.3 161.2 L73.8 160.6 L74.4 159.9 L75.0 159.2 L75.7 158.5 L76.4 157.8 L77.2 157.0 L78.1 156.1 L79.1 155.2 L80.1 154.3 L81.2 153.3 L82.3 152.3 L83.5 151.2 L84.7 150.2 L85.9 149.2 L87.0 148.2 L88.1 147.2 L89.2 146.3 L90.2 145.4 L91.1 144.6 L92.1 143.8 L92.9 143.0 L93.8 142.3 L94.6 141.5 L95.4 140.8 L96.2 140.1 L97.0 139.4 L97.8 138.8 L98.7 138.1 L99.5 137.5 L100.3 136.8 L101.1 136.2 L102.0 135.5 L102.8 134.9 L103.7 134.3 L104.5 133.7 L105.3 133.1 L106.2 132.5 L107.0 131.9 L107.9 131.4 L108.7 130.8 L109.6 130.3 L110.4 129.7 L111.2 129.1 L112.1 128.6 L112.9 128.1 L113.8 127.5 L114.6 127.0 L115.5 126.5 L116.4 125.9 L117.2 125.4 L118.1 125.0 L118.9 124.5 L119.8 124.0 L120.6 123.6 L121.4 123.2 L122.3 122.8 L123.1 122.4 L124.0 122.1 L124.8 121.7 L125.7 121.4 L126.5 121.1 L127.4 120.8 L128.2 120.5 L129.0 120.2 L129.9 119.9 L130.7 119.6 L131.5 119.3 L132.3 119.1 L133.2 118.8 L134.0 118.6 L134.8 118.4 L135.6 118.2 L136.4 118.0 L137.2 117.8 L138.0 117.6 L138.8 117.4 L139.6 117.2 L140.4 117.0 L141.2 116.8 L142.0 116.6 L142.8 116.4 L143.6 116.2 L144.4 115.9 L145.2 115.7 L146.0 115.5 L146.8 115.3 L147.6 115.1 L148.5 114.9 L149.3 114.8 L150.1 114.6 L150.9 114.4 L151.8 114.3 L152.6 114.1 L153.4 114.0 L154.3 113.8 L155.1 113.7 L156.0 113.6 L156.8 113.5 L157.7 113.4 L158.5 113.3 L159.4 113.2 L160.2 113.1 L161.0 113.0 L161.9 113.0 L162.7 112.9 L163.6 112.9 L164.4 112.9 L165.2 112.8 L166.1 112.8 L166.9 112.8 L167.8 112.8 L168.6 112.8 L169.5 112.9 L170.3 112.9 L171.1 112.9 L172.0 113.0 L172.8 113.0 L173.7 113.1 L174.5 113.2 L175.3 113.3 L176.2 113.3 L177.0 113.4 L177.9 113.5 L178.7 113.7 L179.6 113.8 L180.4 113.9 L181.3 114.0 L182.1 114.2 L183.0 114.4 L183.9 114.5 L184.8 114.7 L185.7 114.9 L186.6 115.1 L187.4 115.3 L188.3 115.5 L189.1 115.7 L189.9 115.9 L190.6 116.1 L191.3 116.3 L192.0 116.5 L192.6 116.7 L193.2 116.9 L193.8 117.2 L194.4 117.4 L195.0 117.6 L195.5 117.8 L196.1 118.0 L196.6 118.3 L197.1 118.5 L197.6 118.7 L198.1 118.9 L198.6 119.2 L199.1 119.4 L199.6 119.6 L200.1 119.9 L200.6 120.1 L201.0 120.3 L201.4 120.6 L201.8 120.8 L202.2 120.9 L202.5 121.1 L202.7 121.2 L201.5 123.6 L201.2 123.5 L200.9 123.3 L200.6 123.1 L200.2 123.0 L199.8 122.7 L199.4 122.5 L198.9 122.3 L198.4 122.1 L198.0 121.8 L197.5 121.6 L197.0 121.4 L196.5 121.2 L196.0 121.0 L195.5 120.8 L195.0 120.5 L194.5 120.3 L194.0 120.1 L193.4 119.9 L192.9 119.7 L192.3 119.5 L191.8 119.3 L191.2 119.1 L190.5 118.9 L189.9 118.7 L189.2 118.5 L188.4 118.3 L187.6 118.1 L186.8 117.9 L186.0 117.7 L185.1 117.5 L184.3 117.4 L183.4 117.2 L182.5 117.0 L181.7 116.9 L180.8 116.7 L180.0 116.6 L179.2 116.4 L178.3 116.3 L177.5 116.2 L176.7 116.1 L175.9 116.0 L175.1 115.9 L174.3 115.9 L173.4 115.8 L172.6 115.7 L171.8 115.7 L171.0 115.6 L170.2 115.6 L169.4 115.6 L168.6 115.5 L167.7 115.5 L166.9 115.5 L166.1 115.5 L165.3 115.5 L164.5 115.6 L163.7 115.6 L162.9 115.6 L162.0 115.7 L161.2 115.7 L160.4 115.8 L159.6 115.9 L158.8 115.9 L158.0 116.0 L157.2 116.1 L156.4 116.3 L155.5 116.4 L154.7 116.5 L153.9 116.6 L153.1 116.8 L152.3 116.9 L151.4 117.1 L150.6 117.2 L149.8 117.4 L149.0 117.6 L148.3 117.8 L147.5 117.9 L146.7 118.1 L145.9 118.3 L145.1 118.6 L144.3 118.8 L143.5 119.0 L142.7 119.2 L141.9 119.4 L141.1 119.6 L140.3 119.8 L139.4 120.0 L138.6 120.2 L137.8 120.4 L137.0 120.6 L136.2 120.8 L135.5 121.0 L134.7 121.2 L133.9 121.4 L133.1 121.7 L132.3 121.9 L131.5 122.2 L130.7 122.4 L129.9 122.7 L129.1 123.0 L128.3 123.3 L127.5 123.6 L126.7 123.9 L125.8 124.2 L125.0 124.6 L124.2 124.9 L123.4 125.3 L122.6 125.6 L121.8 126.0 L121.0 126.4 L120.2 126.9 L119.4 127.3 L118.6 127.8 L117.8 128.3 L116.9 128.8 L116.1 129.4 L115.3 129.9 L114.5 130.4 L113.6 131.0 L112.8 131.5 L112.0 132.1 L111.1 132.6 L110.3 133.2 L109.5 133.8 L108.6 134.3 L107.8 134.9 L107.0 135.5 L106.2 136.1 L105.4 136.7 L104.6 137.3 L103.8 137.9 L102.9 138.5 L102.1 139.1 L101.3 139.8 L100.5 140.4 L99.8 141.1 L99.0 141.8 L98.2 142.4 L97.4 143.1 L96.6 143.8 L95.8 144.6 L95.0 145.3 L94.1 146.1 L93.2 146.9 L92.3 147.7 L91.3 148.6 L90.2 149.6 L89.1 150.6 L87.9 151.6 L86.8 152.6 L85.7 153.7 L84.5 154.7 L83.4 155.8 L82.4 156.8 L81.4 157.8 L80.5 158.7 L79.7 159.6 L79.0 160.3 L78.3 161.1 L77.7 161.8 L77.2 162.4 L76.6 163.1 L76.2 163.7 L75.7 164.3 L75.3 164.9 L74.8 165.5 L74.3 166.1 L73.9 166.8 L73.4 167.5 L72.9 168.2 L72.4 168.9 L71.9 169.6 L71.5 170.4 L71.0 171.1 L70.6 171.8 L70.1 172.6 L69.7 173.3 L69.3 174.1 L68.8 174.8 L68.4 175.6 L68.0 176.4 L67.6 177.2 L67.2 178.0 L66.8 178.8 L66.3 179.7 L65.9 180.5 L65.5 181.4 L65.2 182.2 L64.8 183.1 L64.5 183.9 L64.1 184.7 L63.8 185.4 L63.6 186.2 L63.3 186.9 L63.1 187.6 L62.8 188.3 L62.6 188.9 L62.4 189.6 L62.3 190.3 L62.1 190.9 L62.0 191.4 L61.9 192.0 L61.6 192.4 L61.0 192.7 L60.5 192.9 L60.1 193.1 L59.7 193.2 L59.4 193.4 L59.1 193.7 L58.9 194.0 L58.7 194.3 L58.5 194.7 L58.4 195.1 L58.3 195.4 L58.2 195.8 L58.2 196.1 L58.1 196.3Z" fill="url(#gouter)"/>
 <path d="M57.9 196.4 L57.9 196.2 L57.9 195.9 L57.9 195.6 L57.9 195.3 L57.9 195.0 L57.9 194.6 L58.0 194.3 L58.1 193.9 L58.2 193.6 L58.4 193.3 L58.6 193.0 L58.9 192.8 L59.2 192.4 L59.6 192.0 L59.8 191.5 L59.9 190.9 L60.1 190.3 L60.2 189.6 L60.4 189.0 L60.7 188.3 L60.9 187.6 L61.1 186.8 L61.4 186.1 L61.7 185.4 L62.0 184.6 L62.3 183.9 L62.7 183.0 L63.0 182.2 L63.4 181.4 L63.8 180.5 L64.2 179.7 L64.7 178.8 L65.1 177.9 L65.5 177.1 L66.0 176.3 L66.4 175.5 L66.8 174.7 L67.3 173.9 L67.7 173.1 L68.2 172.4 L68.6 171.6 L69.1 170.9 L69.6 170.1 L70.1 169.4 L70.5 168.6 L71.0 167.9 L71.5 167.2 L72.0 166.5 L72.6 165.8 L73.0 165.1 L73.5 164.5 L74.0 163.9 L74.5 163.2 L74.9 162.6 L75.5 162.0 L76.0 161.4 L76.6 160.7 L77.2 160.0 L77.9 159.3 L78.7 158.5 L79.5 157.6 L80.4 156.7 L81.4 155.7 L82.5 154.7 L83.6 153.7 L84.8 152.6 L85.9 151.6 L87.1 150.6 L88.2 149.6 L89.3 148.6 L90.4 147.6 L91.4 146.8 L92.3 145.9 L93.2 145.1 L94.1 144.3 L95.0 143.6 L95.8 142.9 L96.6 142.2 L97.4 141.5 L98.2 140.8 L99.0 140.1 L99.7 139.5 L100.5 138.8 L101.4 138.2 L102.2 137.5 L103.0 136.9 L103.8 136.3 L104.7 135.7 L105.5 135.1 L106.3 134.5 L107.0 135.5 L106.2 136.1 L105.4 136.7 L104.6 137.3 L103.8 137.9 L102.9 138.5 L102.1 139.1 L101.3 139.8 L100.5 140.4 L99.8 141.1 L99.0 141.8 L98.2 142.4 L97.4 143.1 L96.6 143.8 L95.8 144.6 L95.0 145.3 L94.1 146.1 L93.2 146.9 L92.3 147.7 L91.3 148.6 L90.2 149.6 L89.1 150.6 L87.9 151.6 L86.8 152.6 L85.7 153.7 L84.5 154.7 L83.4 155.8 L82.4 156.8 L81.4 157.8 L80.5 158.7 L79.7 159.6 L79.0 160.3 L78.3 161.1 L77.7 161.8 L77.2 162.4 L76.6 163.1 L76.2 163.7 L75.7 164.3 L75.3 164.9 L74.8 165.5 L74.3 166.1 L73.9 166.8 L73.4 167.5 L72.9 168.2 L72.4 168.9 L71.9 169.6 L71.5 170.4 L71.0 171.1 L70.6 171.8 L70.1 172.6 L69.7 173.3 L69.3 174.1 L68.8 174.8 L68.4 175.6 L68.0 176.4 L67.6 177.2 L67.2 178.0 L66.8 178.8 L66.3 179.7 L65.9 180.5 L65.5 181.4 L65.2 182.2 L64.8 183.1 L64.5 183.9 L64.1 184.7 L63.8 185.4 L63.6 186.2 L63.3 186.9 L63.1 187.6 L62.8 188.3 L62.6 188.9 L62.4 189.6 L62.3 190.3 L62.1 190.9 L62.0 191.4 L61.9 192.0 L61.6 192.4 L61.0 192.7 L60.5 192.9 L60.1 193.1 L59.7 193.2 L59.4 193.4 L59.1 193.7 L58.9 194.0 L58.7 194.3 L58.5 194.7 L58.4 195.1 L58.3 195.4 L58.2 195.8 L58.2 196.1 L58.1 196.3Z" fill="#3488cc" opacity="0.75"/>
 <path d="M202.7 121.2 L209.8 113.1 L237.9 171.4" fill="none" stroke="#2b68b2" stroke-width="5.8" stroke-linejoin="miter" stroke-miterlimit="8" clip-path="url(#csil)"/>
</g>


<g>
 <path d="M460 175.6 L657.8 128.1 L649.7 114.1 L702.3 122.7 L679 165.9 L669.9 146.2 L620 155.4 L530 173.9 L458.2 189.8 Q456.7 190.1 456.8 188.6 L457.9 177.6 Q458.1 176 460 175.6Z" fill="url(#garrow)"/>
 <path d="M649.7 114.1 L702.3 122.7 L679 165.9 L669.9 146.2 L657.8 128.1Z" fill="#1878be" opacity="0.45"/>
 <path d="M649.7 114.1 L653.6 114.8 L661.2 127.4 L657.8 128.1Z" fill="#145f9c" opacity="0.8"/>
 <text transform="translate(657.6 140.6) rotate(-17.5)" font-size="11" fill="#6ec8f0" textLength="26" lengthAdjust="spacingAndGlyphs">ВВП</text>
</g>

<text x="10.89" y="30.2" font-size="22.3" fill="#1a1a1a" textLength="307.17" lengthAdjust="spacingAndGlyphs" class="k">ИНОСТРАННЫЕ ИНВЕСТИЦИИ</text>
<text x="408.04" y="33.2" font-size="21" fill="#1a1a1a" textLength="304.17" lengthAdjust="spacingAndGlyphs" class="k">ОБЪЕМ ЭКОНОМИКИ РК (ВВП)</text>
<text x="155.12" y="91.3" font-size="35" fill="#2caae1" textLength="56.98" lengthAdjust="spacingAndGlyphs">80, 5</text>
<text x="223.65" y="91.3" font-size="23" fill="#2caae1" textLength="51.46" lengthAdjust="spacingAndGlyphs" stroke="#2caae1" stroke-width="0.5">млрд.</text>
<text x="280.14" y="91.3" font-size="23" fill="#2caae1" textLength="7.29" lengthAdjust="spacingAndGlyphs" stroke="#2caae1" stroke-width="0.4">$</text>
<text x="402.71" y="134.8" font-size="35" fill="#2caae1" textLength="28.83" lengthAdjust="spacingAndGlyphs">13</text>
<text x="437.48" y="134.8" font-size="23.5" fill="#2caae1" textLength="75.64" lengthAdjust="spacingAndGlyphs" stroke="#2caae1" stroke-width="0.5">млрд. тг.</text>
<text x="642.85" y="89.8" font-size="35" fill="#2caae1" textLength="52.52" lengthAdjust="spacingAndGlyphs">21,8</text>
<text x="700.47" y="89.8" font-size="23" fill="#2caae1" textLength="71.29" lengthAdjust="spacingAndGlyphs" stroke="#2caae1" stroke-width="0.5">млрд.тг.</text>
<text x="10.64" y="287.8" font-size="21" fill="#1a1a1a" textLength="322.62" lengthAdjust="spacingAndGlyphs" class="k">Только с 2007 года по 1 квартал</text>
<text x="11.29" y="316.0" font-size="21" fill="#1a1a1a" textLength="343.76" lengthAdjust="spacingAndGlyphs" class="k">2011 года валовой объем прямых</text>
<text x="10.78" y="344.2" font-size="21" fill="#1a1a1a" textLength="262.98" lengthAdjust="spacingAndGlyphs" class="k">иностранных инвестиций</text>
<text x="10.78" y="372.3" font-size="21" fill="#1a1a1a" textLength="327.99" lengthAdjust="spacingAndGlyphs" class="k">превысил 80,5 млрд. долл. США.</text>
<text x="397.79" y="290.2" font-size="21" fill="#1a1a1a" textLength="276.77" lengthAdjust="spacingAndGlyphs" class="k">За период 2007-2010 годов</text>
<text x="399.3" y="318.4" font-size="21" fill="#1a1a1a" textLength="375.21" lengthAdjust="spacingAndGlyphs" class="k">обеспечен положительный рост ВВП</text>
<text x="398.04" y="346.6" font-size="21" fill="#1a1a1a" textLength="370.72" lengthAdjust="spacingAndGlyphs" class="k" xml:space="preserve" style="white-space:pre">Казахстана.  ВВП в 2007 году – около</text>
<text x="399.04" y="374.9" font-size="21" fill="#1a1a1a" textLength="325.23" lengthAdjust="spacingAndGlyphs" class="k">13 млрд. тг. или 104,9 млн. долл.</text>
<text x="26.3" y="122.9" font-size="21.4" fill="#111" class="yr">2007</text>
<text x="242.9" y="199.0" font-size="21.4" fill="#111" class="yr">20<tspan dx="-0.8">1</tspan><tspan dx="-2.2">1</tspan></text>
<text x="408.6" y="227.5" font-size="21.4" fill="#111" class="yr">2007</text>
<text x="674.9" y="227.5" font-size="21.4" fill="#111" class="yr">20<tspan dx="-0.8">1</tspan><tspan dx="-2.2">1</tspan></text>
</svg>
</body></html>
